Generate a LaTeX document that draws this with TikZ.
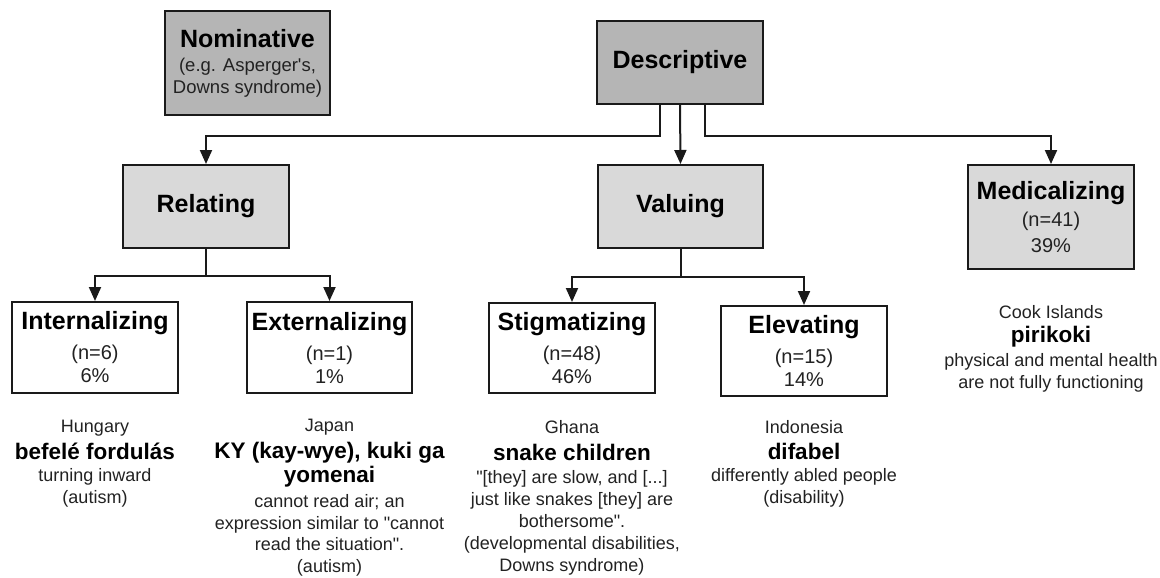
\documentclass[tikz,border=0pt]{standalone}
\usepackage{fontspec}
\setmainfont{Liberation Sans}[Ligatures=TeXOff]
\usetikzlibrary{arrows.meta}
\definecolor{darkfill}{HTML}{B5B5B5}
\definecolor{lightfill}{HTML}{D9D9D9}
\definecolor{txt}{HTML}{222222}
\definecolor{edge}{HTML}{1A1A1A}
\newcommand{\ttl}[1]{{\fontsize{25}{25}\selectfont\bfseries\color{black}#1}}
\newcommand{\bwd}[1]{{\fontsize{22.5}{26}\selectfont\bfseries\color{black}#1}}
\begin{document}
\begin{tikzpicture}[x=1pt,y=-1pt,
  box/.style={draw=edge, line width=2pt, align=center, inner sep=0pt, text=txt},
  darkbox/.style={box, fill=darkfill},
  lightbox/.style={box, fill=lightfill},
  whitebox/.style={box, fill=white},
  subfont/.style={font=\fontsize{20}{23}\selectfont},
  lower/.style={anchor=north, align=center, inner sep=0pt, text=txt, font=\fontsize{18}{22}\selectfont},
  arr/.style={draw=edge, line width=2pt, -{Triangle[length=14pt,width=12pt]}}
]
\fill[white] (0,0) rectangle (1160,578);
\useasboundingbox (0,0) rectangle (1160,578);

% top level
\node[darkbox, minimum width=165pt, minimum height=104pt, font=\fontsize{18.5}{22}\selectfont] (nom) at (247.5,63)
  {\ttl{Nominative}\\[2pt](e.g. Asperger's,\\Downs syndrome)};
\node[darkbox, minimum width=166pt, minimum height=83pt] (desc) at (680,62.5) {\ttl{Descriptive}};

% second level
\node[lightbox, minimum width=166pt, minimum height=83pt] (rel) at (206,206.5) {\ttl{Relating}};
\node[lightbox, minimum width=165pt, minimum height=83pt] (val) at (680.5,206.5) {\ttl{Valuing}};
\node[lightbox, subfont, minimum width=166pt, minimum height=104pt] (med) at (1051,217)
  {\ttl{Medicalizing}\\[4pt](n=41)\\[3pt]39\%};

% third level
\node[whitebox, subfont, minimum width=166pt, minimum height=91pt] (int) at (95,347.5)
  {\ttl{Internalizing}\\[7pt](n=6)\\6\%};
\node[whitebox, subfont, minimum width=165pt, minimum height=91pt] (ext) at (329.5,347.5)
  {\ttl{Externalizing}\\[7pt](n=1)\\1\%};
\node[whitebox, subfont, minimum width=166pt, minimum height=90pt] (stig) at (572,348)
  {\ttl{Stigmatizing}\\[7pt](n=48)\\46\%};
\node[whitebox, subfont, minimum width=166pt, minimum height=90pt] (elev) at (804,351)
  {\ttl{Elevating}\\[7pt](n=15)\\14\%};

% connectors
\draw[arr] ([xshift=-20pt]desc.south) -- ++(0,31) -| (rel.north);
\draw[arr] (desc.south) -- (val.north);
\draw[arr] ([xshift=25pt]desc.south) -- ++(0,31) -| (med.north);
\draw[arr] (rel.south) -- ++(0,27) -| (int.north);
\draw[arr] (rel.south) -- ++(0,27) -| (ext.north);
\draw[arr] (val.south) -- ++(0,28) -| (stig.north);
\draw[arr] (val.south) -- ++(0,28) -| (elev.north);

% examples
\node[lower] (hun) at (95,420)
  {Hungary\\[5pt]\bwd{befelé fordulás}\\turning inward\\(autism)};
\node[lower] (jap) at (329.5,419)
  {Japan\\[5pt]\bwd{KY (kay-wye), kuki ga}\\[2pt]\bwd{yomenai}\\[3pt]cannot read air; an\\[-0.5pt]expression similar to "cannot\\[-0.5pt]read the situation".\\[-0.5pt](autism)};
\node[lower] (gha) at (572,420)
  {Ghana\\[5pt]\bwd{snake children}\\[1pt]"[they] are slow, and [...]\\just like snakes [they] are\\bothersome".\\(developmental disabilities,\\Downs syndrome)};
\node[lower] (ind) at (804,420)
  {Indonesia\\[4pt]\bwd{difabel}\\differently abled people\\(disability)};
\node[lower] (cook) at (1051,305)
  {Cook Islands\\[2pt]\bwd{pirikoki}\\[2pt]physical and mental health\\are not fully functioning};
\end{tikzpicture}
\end{document}
